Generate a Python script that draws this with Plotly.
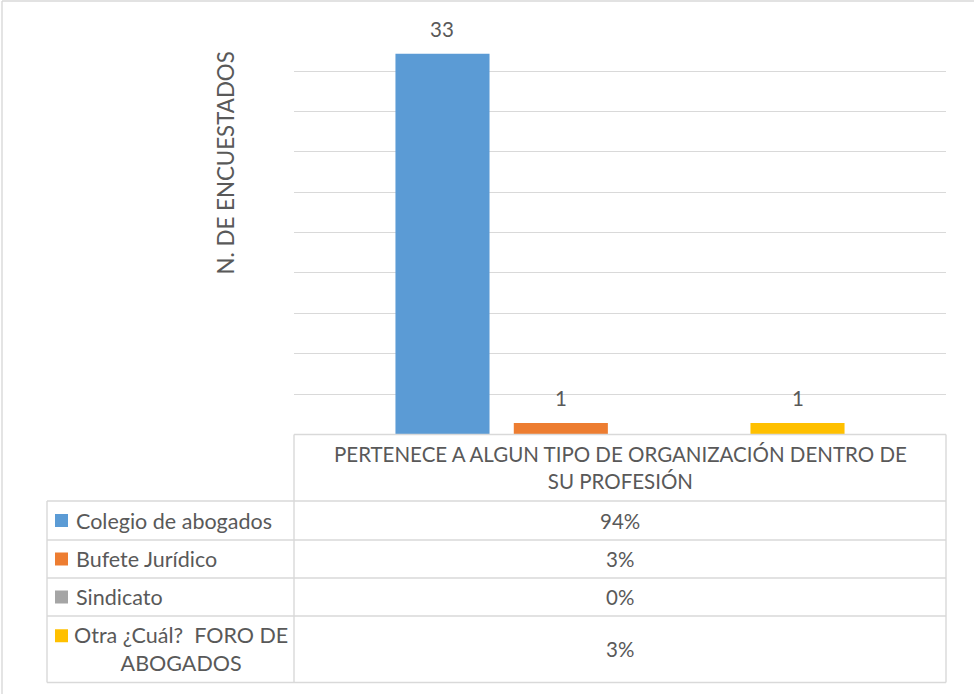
import plotly.graph_objects as go

# --- data -----------------------------------------------------------------
question = "PERTENECE A ALGUN TIPO DE ORGANIZACIÓN DENTRO DE SU PROFESIÓN"
question_lines = ["PERTENECE A ALGUN TIPO DE ORGANIZACIÓN DENTRO DE", "SU PROFESIÓN"]
series_names = ["Colegio de abogados", "Bufete Jurídico", "Sindicato", "Otra ¿Cuál?  FORO DE ABOGADOS"]
series_label_lines = [["Colegio de abogados"], ["Bufete Jurídico"], ["Sindicato"],
                      ["Otra ¿Cuál?  FORO DE", "ABOGADOS"]]
counts = [33, 1, 0, 1]
colors = ["#5B9BD5", "#ED7D31", "#A5A5A5", "#FFC000"]
y_max = 35
y_step = 3.5

total = sum(counts)
percents = [f"{round(c / total * 100)}%" for c in counts]

# --- page geometry (pixels) -----------------------------------------------
W, H = 974, 694
FONT = "Lato"
TEXT = "#595959"
GRID = "#D9D9D9"

plot_left, plot_right = 294, 946
plot_top, plot_bottom = 30.7, 434.5
table_left = 47
header_bottom = 501
row_edges = [501, 540, 578, 616, 682.5]
bargap = 0.274
bargroupgap = 0.205


def px(x):
    return x / W


def py(y):
    return 1 - y / H


fig = go.Figure()
for name, val, col in zip(series_names, counts, colors):
    fig.add_trace(go.Bar(x=[question], y=[val], name=name, marker_color=col,
                         marker_line_width=0, showlegend=False))

shapes = []
annotations = []


def hline(y, x0, x1):
    shapes.append(dict(type="line", xref="paper", yref="paper", x0=px(x0), x1=px(x1),
                       y0=py(y), y1=py(y), line=dict(color=GRID, width=1.4)))


def vline(x, y0, y1):
    shapes.append(dict(type="line", xref="paper", yref="paper", x0=px(x), x1=px(x),
                       y0=py(y0), y1=py(y1), line=dict(color=GRID, width=1.4)))


# outer chart frame (left and top edges visible)
vline(2, 1, H)
hline(1, 2, W)

# data table grid
hline(plot_bottom, plot_left, plot_right)
for y in row_edges:
    hline(y, table_left, plot_right)
vline(table_left, row_edges[0], row_edges[-1])
vline(plot_left, plot_bottom, row_edges[-1])
vline(plot_right, plot_bottom, row_edges[-1])

col_center = (plot_left + plot_right) / 2

# header cell
annotations.append(dict(xref="paper", yref="paper", x=px(col_center), y=py((plot_bottom + header_bottom) / 2),
                        text="<br>".join(question_lines), showarrow=False, align="center",
                        xanchor="center", yanchor="middle",
                        font=dict(family=FONT, size=20.5, color=TEXT)))

# rows: legend key, series name, percentage
for i in range(len(series_names)):
    top, bot = row_edges[i], row_edges[i + 1]
    mid = (top + bot) / 2
    annotations.append(dict(xref="paper", yref="paper", x=px(col_center), y=py(mid),
                            text=percents[i], showarrow=False, xanchor="center", yanchor="middle",
                            font=dict(family=FONT, size=20.5, color=TEXT)))
    lines = series_label_lines[i]
    if len(lines) == 1:
        key_y = mid
        annotations.append(dict(xref="paper", yref="paper", x=px(74), y=py(mid),
                                text=lines[0], showarrow=False, xanchor="left", yanchor="middle",
                                font=dict(family=FONT, size=21.5, color=TEXT)))
    else:
        key_y = mid - 13.5
        annotations.append(dict(xref="paper", yref="paper", x=px(181), y=py(mid),
                                text="<br>".join(lines), showarrow=False, xanchor="center",
                                yanchor="middle", align="center",
                                font=dict(family=FONT, size=21.5, color=TEXT)))
    shapes.append(dict(type="rect", xref="paper", yref="paper",
                       x0=px(55), x1=px(68), y0=py(key_y - 6.5), y1=py(key_y + 6.5),
                       fillcolor=colors[i], line=dict(width=0)))

# value labels above the bars
n = len(counts)
slot = (1 - bargap) / n
for i, val in enumerate(counts):
    if val == 0:
        continue
    annotations.append(dict(xref="x", yref="y", x=(i - (n - 1) / 2) * slot, y=val,
                            text=str(val), showarrow=False, xanchor="center", yanchor="bottom",
                            yshift=11, font=dict(family=FONT, size=20.5, color=TEXT)))

# value axis title
annotations.append(dict(xref="paper", yref="paper", x=px(225), y=py(163.5),
                        text="N. DE ENCUESTADOS", textangle=-90, showarrow=False,
                        xanchor="center", yanchor="middle",
                        font=dict(family=FONT, size=22.3, color=TEXT)))

fig.update_layout(
    width=W, height=H,
    margin=dict(l=0, r=0, t=0, b=0),
    paper_bgcolor="white", plot_bgcolor="white",
    barmode="group", bargap=bargap, bargroupgap=bargroupgap,
    xaxis=dict(domain=[px(plot_left), px(plot_right)], showticklabels=False,
               showgrid=False, zeroline=False, showline=False, ticks=""),
    yaxis=dict(domain=[py(plot_bottom), py(plot_top)], range=[0, y_max], dtick=y_step,
               showticklabels=False, showgrid=True, gridcolor=GRID, gridwidth=1.4,
               zeroline=False, showline=False, ticks=""),
    shapes=shapes, annotations=annotations,
    font=dict(family=FONT, color=TEXT),
)

fig.write_html("out.html")
